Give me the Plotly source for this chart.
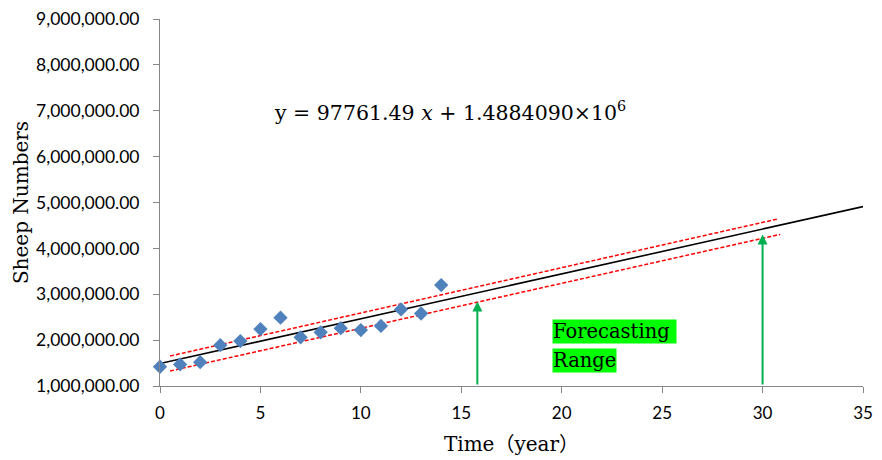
import plotly.graph_objects as go

# ---- data ----
years = [0, 1, 2, 3, 4, 5, 6, 7, 8, 9, 10, 11, 12, 13, 14]
sheep = [1420000, 1470000, 1520000, 1890000, 1980000, 2240000, 2490000,
         2060000, 2170000, 2260000, 2220000, 2310000, 2670000, 2580000, 3200000]

slope = 97761.49
intercept = 1488409.0
fit_x = [0, 35]

upper_x = [0.5, 30.75]
upper_y = [1654000, 4640000]
lower_x = [0.5, 30.88]
lower_y = [1327000, 4305000]

arrow_x = [15.8, 30.0]
arrow_base = [1000000, 1000000]
arrow_tip = [2840000, 4300000]

y_ticks = [1000000, 2000000, 3000000, 4000000, 5000000, 6000000, 7000000, 8000000, 9000000]
x_ticks = [0, 5, 10, 15, 20, 25, 30, 35]

fit_y = [slope * v + intercept for v in fit_x]

AX = "#868686"
SERIF = "DejaVu Serif, Noto Sans CJK SC, serif"
TICKF = "Lato, Liberation Sans, sans-serif"

fig = go.Figure()

fig.add_trace(go.Scatter(x=fit_x, y=fit_y, mode="lines",
                         line=dict(color="black", width=1.6), showlegend=False,
                         hoverinfo="skip"))
fig.add_trace(go.Scatter(x=upper_x, y=upper_y, mode="lines",
                         line=dict(color="#FF0000", width=1.5, dash="4px,2px"),
                         showlegend=False, hoverinfo="skip"))
fig.add_trace(go.Scatter(x=lower_x, y=lower_y, mode="lines",
                         line=dict(color="#FF0000", width=1.5, dash="4px,2px"),
                         showlegend=False, hoverinfo="skip"))
fig.add_trace(go.Scatter(x=years, y=sheep, mode="markers",
                         marker=dict(symbol="diamond", size=11, color="#4F81BD",
                                     line=dict(width=0)),
                         cliponaxis=False, showlegend=False))

annotations = []
for xa, yb, yt in zip(arrow_x, arrow_base, arrow_tip):
    annotations.append(dict(x=xa, y=yt, ax=xa, ay=yb, xref="x", yref="y",
                            axref="x", ayref="y", text="", showarrow=True,
                            arrowhead=2, arrowsize=1, arrowwidth=2,
                            arrowcolor="#00B050"))

annotations.append(dict(xref="paper", yref="paper", x=0.412, y=0.747,
                        xanchor="center", yanchor="middle", showarrow=False,
                        text="y = 97761.49 <i>x</i> + 1.4884090×10<sup>6</sup>",
                        font=dict(family=SERIF, size=20.5, color="black")))
annotations.append(dict(xref="paper", yref="paper", x=0.557, y=0.1485,
                        xanchor="left", yanchor="middle", showarrow=False,
                        text="Forecasting ", bgcolor="#00FF00", borderpad=0,
                        font=dict(family=SERIF, size=19.5, color="black")))
annotations.append(dict(xref="paper", yref="paper", x=0.557, y=0.0708,
                        xanchor="left", yanchor="middle", showarrow=False,
                        text="Range", bgcolor="#00FF00", borderpad=0,
                        font=dict(family=SERIF, size=19.5, color="black")))

fig.update_layout(
    width=882, height=460,
    margin=dict(l=160, r=19, t=19, b=74),
    paper_bgcolor="white", plot_bgcolor="white",
    showlegend=False,
    annotations=annotations,
    xaxis=dict(range=[0, 35], tickvals=x_ticks, showgrid=False, zeroline=False,
               showline=True, linecolor=AX, linewidth=1, ticks="outside",
               ticklen=6, tickcolor=AX, automargin=False, ticklabelstandoff=6,
               tickfont=dict(family=TICKF, size=17, color="black"),
               title=dict(text="Time（year）", standoff=14,
                          font=dict(family=SERIF, size=20, color="black"))),
    yaxis=dict(range=[1000000, 9000000], tickvals=y_ticks, tickformat=",.2f",
               showgrid=False, zeroline=False, showline=True, linecolor=AX,
               linewidth=1, ticks="outside", ticklen=6, tickcolor=AX,
               automargin=False, ticklabelstandoff=10,
               tickfont=dict(family=TICKF, size=17.5, color="black"),
               title=dict(text="Sheep Numbers", standoff=2,
                          font=dict(family=SERIF, size=20, color="black"))),
)

fig.write_html("out.html", config={"displayModeBar": False},
               post_script="document.body.style.margin='0';document.body.style.overflow='hidden';")
